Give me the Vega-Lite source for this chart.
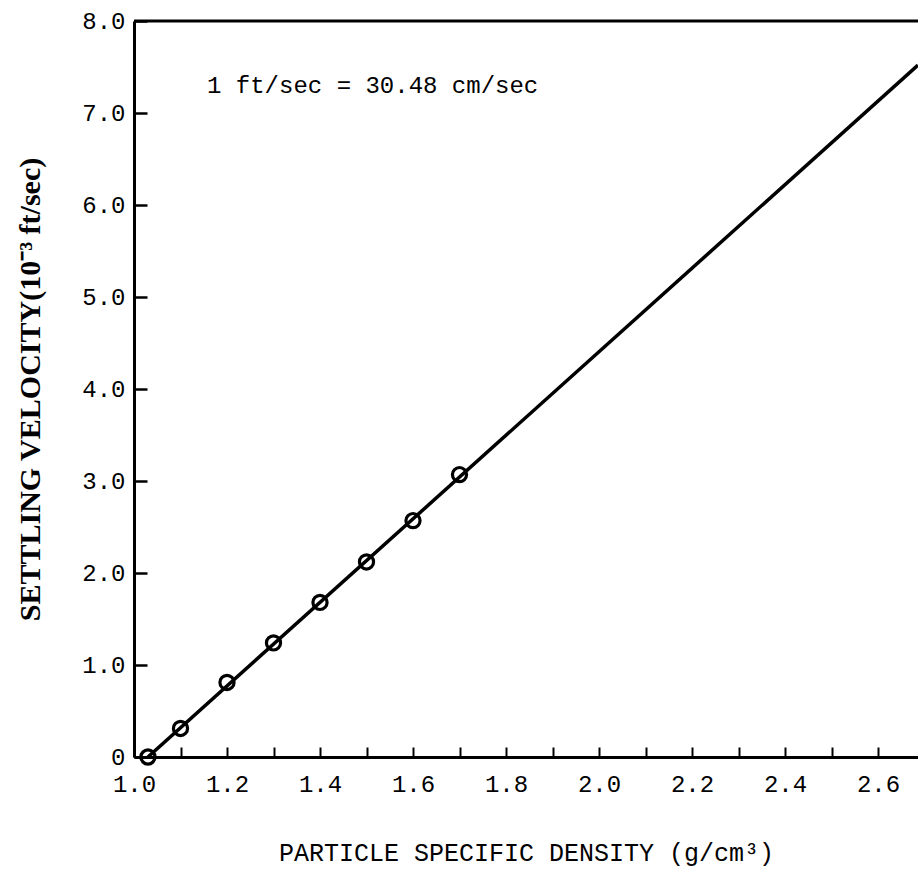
{
  "$schema": "https://vega.github.io/schema/vega-lite/v6.json",
  "width": 784,
  "height": 736,
  "autosize": "none",
  "padding": {"left": 134, "top": 21, "right": 0, "bottom": 123},
  "background": "white",
  "config": {
    "view": {"stroke": null},
    "font": "Liberation Mono",
    "axis": {"domainColor": "black", "tickColor": "black", "labelColor": "black", "titleColor": "black", "grid": false, "labelFont": "Liberation Mono", "titleFont": "Liberation Mono", "titleFontWeight": "normal"}
  },
  "datasets": {
    "points": [
      {"density": 1.03, "velocity": 0.0},
      {"density": 1.1, "velocity": 0.31},
      {"density": 1.2, "velocity": 0.81},
      {"density": 1.3, "velocity": 1.24},
      {"density": 1.4, "velocity": 1.68},
      {"density": 1.5, "velocity": 2.12},
      {"density": 1.6, "velocity": 2.57},
      {"density": 1.7, "velocity": 3.07}
    ],
    "fit": [
      {"density": 1.03, "velocity": 0.0},
      {"density": 2.686, "velocity": 7.52}
    ],
    "note": [
      {"density": 1.157, "velocity": 7.29, "label": "1 ft/sec = 30.48 cm/sec"}
    ]
  },
  "layer": [
    {
      "data": {"name": "fit"},
      "mark": {"type": "line", "color": "black", "strokeWidth": 3.5, "clip": true},
      "encoding": {
        "x": {
          "field": "density", "type": "quantitative",
          "scale": {"domain": [1.0, 2.686], "nice": false, "zero": false},
          "axis": {
            "title": "PARTICLE SPECIFIC DENSITY (g/cm³)",
            "values": [1.0, 1.1, 1.2, 1.3, 1.4, 1.5, 1.6, 1.7, 1.8, 1.9, 2.0, 2.1, 2.2, 2.3, 2.4, 2.5, 2.6],
            "labelExpr": "round(datum.value*10)%2==0 ? format(datum.value, '.1f') : ''",
            "tickSize": -10, "tickWidth": 2, "domainWidth": 3,
            "labelFontSize": 24, "labelPadding": 25,
            "titleFontSize": 25, "titlePadding": 44,
            "labelFlush": false
          }
        },
        "y": {
          "field": "velocity", "type": "quantitative",
          "scale": {"domain": [0, 8], "nice": false},
          "axis": {
            "title": "SETTLING VELOCITY(10⁻³ ft/sec)",
            "values": [0, 1, 2, 3, 4, 5, 6, 7, 8],
            "labelExpr": "datum.value==0 ? '0' : format(datum.value, '.1f')",
            "tickSize": -13, "tickWidth": 2.5, "domainWidth": 3,
            "labelFontSize": 24, "labelPadding": 22,
            "titleFontSize": 30, "titlePadding": 36, "titleFont": "Liberation Serif", "titleFontWeight": "bold",
            "labelFlush": false
          }
        }
      }
    },
    {
      "data": {"name": "points"},
      "mark": {"type": "point", "shape": "circle", "filled": false, "color": "black", "strokeWidth": 3.2, "size": 200, "opacity": 1},
      "encoding": {
        "x": {"field": "density", "type": "quantitative"},
        "y": {"field": "velocity", "type": "quantitative"}
      }
    },
    {
      "data": {"name": "note"},
      "mark": {"type": "text", "align": "left", "baseline": "middle", "fontSize": 24, "font": "Liberation Mono", "color": "black"},
      "encoding": {
        "x": {"field": "density", "type": "quantitative"},
        "y": {"field": "velocity", "type": "quantitative"},
        "text": {"field": "label"}
      }
    },
    {
      "data": {"values": [{"top": 8}]},
      "mark": {"type": "rule", "color": "black", "strokeWidth": 3},
      "encoding": {"y": {"field": "top", "type": "quantitative"}}
    }
  ]
}
